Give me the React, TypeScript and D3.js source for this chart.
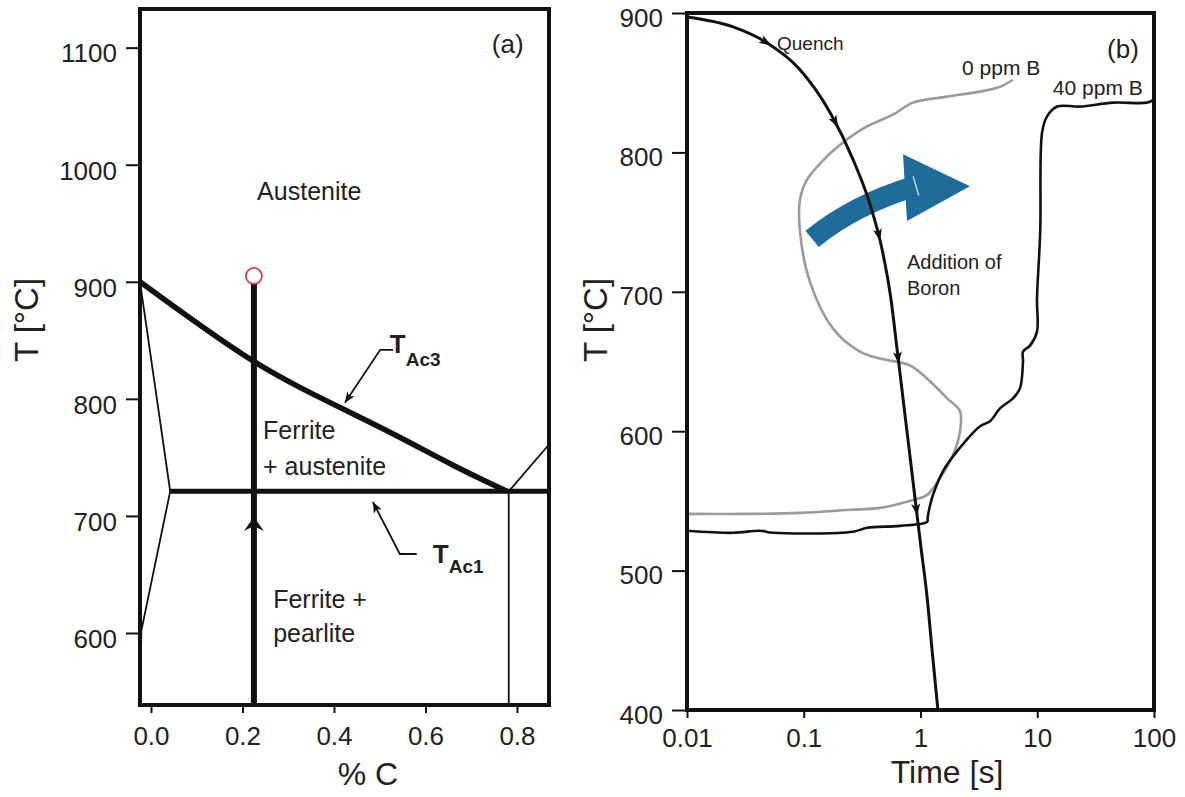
import React, { useEffect, useRef } from "react";
import * as d3 from "d3";

// ---------- panel (a): % C vs T
const carbonTicks = [0.0, 0.2, 0.4, 0.6, 0.8];
const tempTicksA = [600, 700, 800, 900, 1000, 1100];
const a3Line: [number, number][] = [
  [-0.024, 900], [0.0962, 865.8], [0.2252, 830.8], [0.3257, 809.4], [0.424, 790.6],
  [0.5443, 767.5], [0.6601, 742.8], [0.778, 721],
];
const a1Line: [number, number][] = [[0.042, 721], [0.87, 721]];
const ferriteBoundary: [number, number][] = [[-0.024, 900], [0.042, 721], [-0.021, 602], [-0.024, 538.5]];
const eutectoidVertical: [number, number][] = [[0.782, 721], [0.782, 538.5]];
const cementiteLine: [number, number][] = [[0.782, 721], [0.87, 761]];
const heatPath: [number, number][] = [[0.225, 538.5], [0.225, 898.3]];
const startPoint: [number, number] = [0.225, 905];
const heatArrowT = 699;

// ---------- panel (b): time vs T
const timeTicks = [0.01, 0.1, 1, 10, 100];
const tempTicksB = [400, 500, 600, 700, 800, 900];
const quench: [number, number][] = [
  [0.01, 897.1], [0.0248, 890], [0.0484, 878.6], [0.0929, 859.3], [0.168, 828.6],
  [0.264, 795], [0.369, 762.9], [0.468, 730.7], [0.558, 695], [0.629, 659.3],
  [0.708, 623.6], [0.797, 587.9], [0.897, 552.1], [1.01, 516.4], [1.14, 480.7],
  [1.25, 445], [1.41, 400],
];
const quenchArrowsT = [878.6, 821.4, 740, 652.1, 542.9];
const ppm0: [number, number][] = [
  [0.01, 540.7], [0.0347, 540.7], [0.0929, 541.4], [0.249, 543.6], [0.45, 545],
  [0.863, 550.7], [1.14, 554.3], [1.47, 566.4], [1.9, 582.9], [2.18, 600],
  [2.18, 614.3], [1.69, 623.6], [1.21, 635.7], [0.813, 647.1], [0.45, 652.1],
  [0.303, 657.1], [0.178, 673.6], [0.113, 707.1], [0.0929, 742.9], [0.0929, 766.4],
  [0.107, 780.7], [0.158, 797.1], [0.217, 807.1], [0.348, 818.6], [0.581, 827.1],
  [0.863, 835.7], [1.69, 840], [3.24, 843.6], [4.8, 847.1], [6.2, 852.1],
];
const ppm40: [number, number][] = [
  [0.01, 528.6], [0.0248, 527.1], [0.0422, 528.6], [0.0546, 527.1], [0.264, 527.9],
  [0.348, 530.7], [0.667, 532.1], [1.14, 535], [1.15, 537.9], [1.21, 547.1],
  [1.28, 554.3], [1.56, 571.4], [2.06, 585.7], [3.24, 603.6], [3.94, 607.1],
  [4.8, 616.4], [6.2, 623.6], [7.11, 630.7], [7.55, 650], [7.55, 657.1],
  [8.67, 661.4], [9.95, 671.4], [9.95, 695], [10.6, 742.9], [11.0, 814.3],
  [12.1, 825.7], [14.8, 832.9], [23.2, 832.9], [44.6, 835.7], [87.1, 835.7],
  [100, 837.9],
];

const FONT = "'Liberation Sans', Arial, Helvetica, sans-serif";
const INK = "#111";
const TXT = "#222";
const BLUE = "#1d6c9a";
const GRAY = "#9b9b9b";

export default function App() {
  const ref = useRef<SVGSVGElement>(null);

  useEffect(() => {
    const svg = d3.select(ref.current);
    svg.selectAll("*").remove();

    const styleAxis = (g: any, dy: string) => {
      g.select(".domain").remove();
      g.selectAll(".tick line").attr("stroke", INK).attr("stroke-width", 2);
      g.selectAll(".tick text")
        .attr("fill", TXT)
        .style("font-size", "26px")
        .style("font-family", FONT);
      if (dy) g.selectAll(".tick text").attr("dy", dy);
    };

    const text = (g: any, x: number, y: number, s: string, size: number, anchor = "start") =>
      g.append("text")
        .attr("x", x).attr("y", y)
        .attr("text-anchor", anchor)
        .style("font-family", FONT)
        .style("font-size", `${size}px`)
        .attr("fill", TXT)
        .text(s);

    // ================= panel (a)
    const xA = d3.scaleLinear().domain([-0.024, 0.87]).range([140, 549]);
    const yA = d3.scaleLinear().domain([538.5, 1133]).range([705, 9]);
    const lineA = d3.line<[number, number]>().x(d => xA(d[0])).y(d => yA(d[1]));
    const gA = svg.append("g");

    gA.append("g").attr("transform", "translate(140,0)")
      .call(d3.axisLeft(yA).tickValues(tempTicksA).tickSize(14).tickPadding(9).tickFormat(d3.format("d")))
      .call(styleAxis, "0.55em");
    gA.append("g").attr("transform", "translate(0,705)")
      .call(d3.axisBottom(xA).tickValues(carbonTicks).tickSize(8).tickPadding(14).tickFormat(d3.format(".1f")))
      .call(styleAxis, "");

    const thin = [ferriteBoundary, eutectoidVertical, cementiteLine];
    thin.forEach(l => gA.append("path").attr("d", lineA(l)).attr("fill", "none").attr("stroke", INK).attr("stroke-width", 1.8));

    gA.append("path").attr("d", lineA.curve(d3.curveBasis)(a3Line))
      .attr("fill", "none").attr("stroke", INK).attr("stroke-width", 5.5);
    lineA.curve(d3.curveLinear);
    gA.append("path").attr("d", lineA(a1Line)).attr("fill", "none").attr("stroke", INK).attr("stroke-width", 5);
    gA.append("path").attr("d", lineA(heatPath)).attr("fill", "none").attr("stroke", INK).attr("stroke-width", 6);

    gA.append("circle").attr("cx", xA(startPoint[0])).attr("cy", yA(startPoint[1])).attr("r", 8)
      .attr("fill", "#fff").attr("stroke", "#e0393e").attr("stroke-width", 1.8);

    // upward arrowhead on the heating path
    gA.append("path")
      .attr("d", "M0,0L-10,14L0,9L10,14Z")
      .attr("transform", `translate(${xA(heatPath[0][0])},${yA(heatArrowT)})`)
      .attr("fill", INK);

    // leader lines for T_Ac3 and T_Ac1
    const leader = (pts: [number, number][]) => {
      const p = pts.map(d => [xA(d[0]), yA(d[1])]);
      gA.append("path").attr("d", "M" + p.map(q => q.join(",")).join("L"))
        .attr("fill", "none").attr("stroke", INK).attr("stroke-width", 1.8);
      const a = p[p.length - 1], b = p[p.length - 2];
      const ang = Math.atan2(a[1] - b[1], a[0] - b[0]) * 180 / Math.PI;
      gA.append("path").attr("d", "M0,0L-11,-4.5L-8,0L-11,4.5Z")
        .attr("transform", `translate(${a[0]},${a[1]}) rotate(${ang})`).attr("fill", INK);
    };
    leader([[0.529, 841.9], [0.501, 841.9], [0.424, 796.6]]);
    leader([[0.581, 667.5], [0.544, 667.5], [0.485, 712]]);

    const subLabel = (x: number, y: number, sub: string, dy: number) => {
      const t = gA.append("text").attr("x", xA(x)).attr("y", yA(y))
        .style("font-family", FONT).style("font-weight", "bold").attr("fill", TXT)
        .style("font-size", "26px").text("T");
      t.append("tspan").attr("dy", dy).style("font-size", "19px").text(sub);
    };
    subLabel(0.522, 839.3, "Ac3", 13);
    subLabel(0.616, 659.8, "Ac1", 10);

    text(gA, xA(0.232), yA(970), "Austenite", 25);
    text(gA, xA(0.245), yA(765.8), "Ferrite", 25);
    text(gA, xA(0.245), yA(735), "+ austenite", 25);
    text(gA, xA(0.267), yA(621.4), "Ferrite +", 25);
    text(gA, xA(0.267), yA(592.3), "pearlite", 25);
    text(gA, xA(0.745), yA(1095.7), "(a)", 26);

    gA.append("rect").attr("x", 140).attr("y", 9).attr("width", 409).attr("height", 696)
      .attr("fill", "none").attr("stroke", INK).attr("stroke-width", 4);

    text(gA, 368, 785, "% C", 32, "middle");
    text(gA, 0, 0, "T [°C]", 33, "middle").attr("transform", "translate(38,320) rotate(-90)");

    // ================= panel (b)
    const xB = d3.scaleLog().domain([0.01, 100]).range([687, 1154]);
    const yB = d3.scaleLinear().domain([400, 900]).range([710, 13]);
    const lineB = d3.line<[number, number]>().x(d => xB(d[0])).y(d => yB(d[1]));
    const gB = svg.append("g");

    gB.append("g").attr("transform", "translate(687,0)")
      .call(d3.axisLeft(yB).tickValues(tempTicksB).tickSize(15).tickPadding(9).tickFormat(d3.format("d")))
      .call(styleAxis, "0.5em");
    gB.append("g").attr("transform", "translate(0,710)")
      .call(d3.axisBottom(xB).tickValues(timeTicks).tickSize(8).tickPadding(11).tickFormat((d: any) => String(d)))
      .call(styleAxis, "");

    gB.append("path").attr("d", lineB.curve(d3.curveCatmullRom.alpha(0.5))(ppm0))
      .attr("fill", "none").attr("stroke", GRAY).attr("stroke-width", 2.6);
    gB.append("path").attr("d", lineB(ppm40))
      .attr("fill", "none").attr("stroke", INK).attr("stroke-width", 2.6);

    // blue "addition of boron" arrow
    const p0 = [xB(0.118), yB(738)], p1 = [xB(0.275), yB(762.9)], p2 = [xB(0.897), yB(775.7)];
    gB.append("polygon")
      .attr("points", [[xB(0.708), yB(798.6)], [xB(2.65), yB(775.7)], [xB(0.766), yB(750.7)]].map(d => d.join(",")).join(" "))
      .attr("fill", BLUE);
    gB.append("path").attr("d", `M${p0.join(",")}Q${p1.join(",")} ${p2.join(",")}`)
      .attr("fill", "none").attr("stroke", BLUE).attr("stroke-width", 21);
    {
      const dx = p2[0] - p1[0], dy = p2[1] - p1[1], len = Math.hypot(dx, dy);
      const ux = dx / len, uy = dy / len;
      const cx = p2[0] + ux * 1, cy = p2[1] + uy * 1;
      gB.append("line")
        .attr("x1", cx + uy * 10).attr("y1", cy - ux * 10)
        .attr("x2", cx - uy * 10).attr("y2", cy + ux * 10)
        .attr("stroke", "#fff").attr("stroke-width", 1.3).attr("opacity", 0.85);
    }

    const qPath = gB.append("path").attr("d", lineB.curve(d3.curveMonotoneX)(quench))
      .attr("fill", "none").attr("stroke", INK).attr("stroke-width", 3);
    const node = qPath.node() as SVGPathElement;
    const total = node.getTotalLength();
    quenchArrowsT.forEach(T => {
      const yT = yB(T);
      let best = 0, bestD = Infinity;
      for (let l = 0; l <= total; l += 0.5) {
        const d = Math.abs(node.getPointAtLength(l).y - yT);
        if (d < bestD) { bestD = d; best = l; }
      }
      const p = node.getPointAtLength(best);
      const a = node.getPointAtLength(Math.max(0, best - 3));
      const b = node.getPointAtLength(Math.min(total, best + 3));
      const ang = Math.atan2(b.y - a.y, b.x - a.x) * 180 / Math.PI;
      gB.append("path").attr("d", "M5,0L-7,-4.5L-4,0L-7,4.5Z")
        .attr("transform", `translate(${p.x},${p.y}) rotate(${ang})`).attr("fill", INK);
    });

    text(gB, xB(0.059), yB(873.6), "Quench", 19);
    text(gB, xB(2.27), yB(855.7), "0 ppm B", 21);
    text(gB, xB(13.6), yB(841.4), "40 ppm B", 21);
    text(gB, xB(39.6), yB(867.9), "(b)", 26);
    text(gB, xB(0.766), yB(716.4), "Addition of", 20);
    text(gB, xB(0.766), yB(697.9), "Boron", 20);

    gB.append("rect").attr("x", 687).attr("y", 13).attr("width", 467).attr("height", 697)
      .attr("fill", "none").attr("stroke", INK).attr("stroke-width", 4);

    text(gB, 947, 783, "Time [s]", 32, "middle");
    text(gB, 0, 0, "T [°C]", 33, "middle").attr("transform", "translate(607,320) rotate(-90)");
  }, []);

  return (
    <svg
      ref={ref}
      width={1185}
      height={797}
      style={{ position: "absolute", left: 0, top: 0, background: "#fff" }}
    />
  );
}
